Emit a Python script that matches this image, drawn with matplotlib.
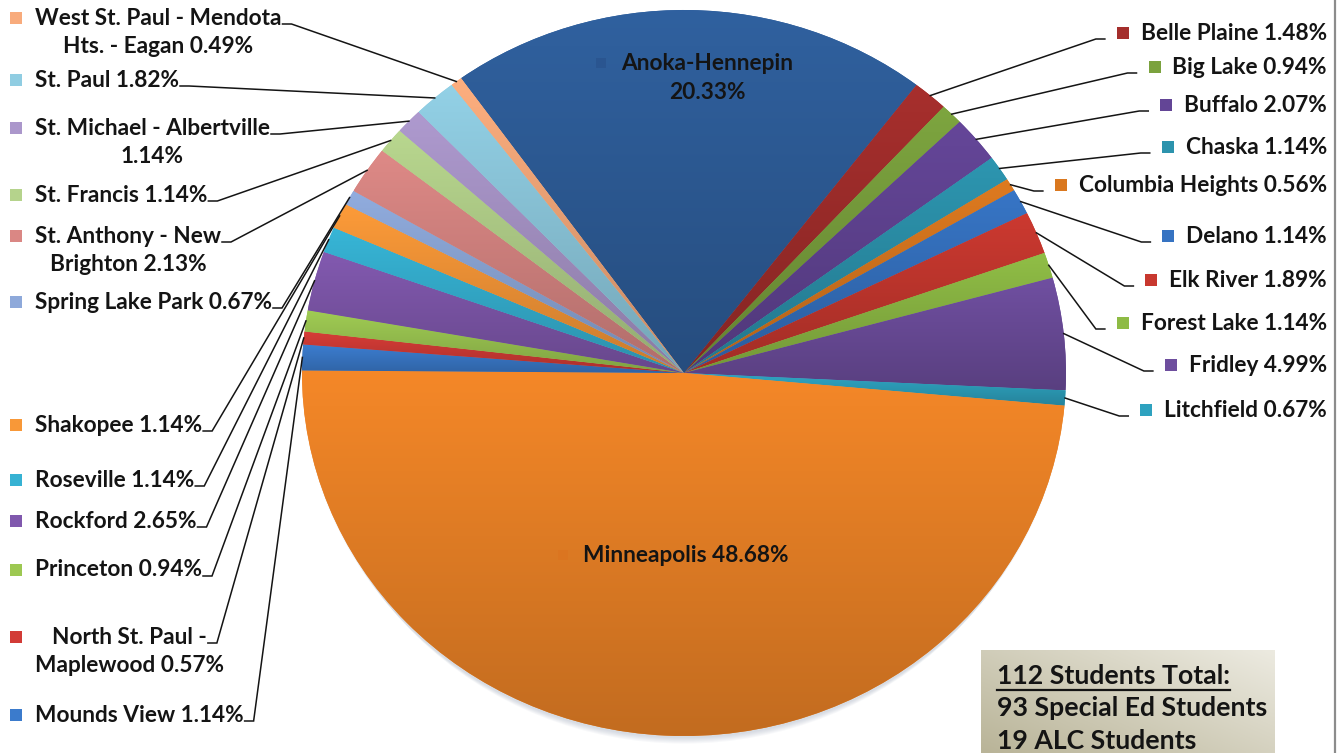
import numpy as np
import matplotlib
matplotlib.use("Agg")
import matplotlib.pyplot as plt
from matplotlib.colors import to_rgb
from matplotlib.patches import Rectangle, Ellipse

# Share of students by home district (percent), clockwise order
districts = [
    "Anoka-Hennepin", "Belle Plaine", "Big Lake", "Buffalo", "Chaska",
    "Columbia Heights", "Delano", "Elk River", "Forest Lake", "Fridley",
    "Litchfield", "Minneapolis", "Mounds View", "North St. Paul - Maplewood",
    "Princeton", "Rockford", "Roseville", "Shakopee", "Spring Lake Park",
    "St. Anthony - New Brighton", "St. Francis", "St. Michael - Albertville",
    "St. Paul", "West St. Paul - Mendota Hts. - Eagan",
]
shares = [20.33, 1.48, 0.94, 2.07, 1.14, 0.56, 1.14, 1.89, 1.14, 4.99, 0.67,
          48.68, 1.14, 0.57, 0.94, 2.65, 1.14, 1.14, 0.67, 2.13, 1.14, 1.14,
          1.82, 0.49]
colors = [
    "#2F5F9C", "#A42E2C", "#7BA23E", "#634596", "#2C93AD",
    "#DA781F", "#3673C2", "#C8382F", "#8EBB45", "#6E4E9E",
    "#2EA2BF", "#F08527", "#3B7BCC", "#D23B36", "#9DC852",
    "#8058AD", "#36B2D3", "#F89838", "#8EA9DA", "#DA8784",
    "#B5D38C", "#AB97CB", "#90CDE2", "#F8AB7C",
]
totals_title = "112 Students Total:"
totals_lines = ["93 Special Ed Students", "19 ALC Students"]

# Number of words on the first line of labels that wrap
first_line_words = {
    "Anoka-Hennepin": 1,
    "St. Michael - Albertville": 4,
    "St. Anthony - New Brighton": 4,
    "North St. Paul - Maplewood": 4,
    "West St. Paul - Mendota Hts. - Eagan": 5,
}

# Label placement (pixels): side and vertical centre of the first line
label_layout = {
    "West St. Paul - Mendota Hts. - Eagan": ("L", 18),
    "St. Paul": ("L", 80),
    "St. Michael - Albertville": ("L", 128),
    "St. Francis": ("L", 195),
    "St. Anthony - New Brighton": ("L", 236),
    "Spring Lake Park": ("L", 302),
    "Shakopee": ("L", 425),
    "Roseville": ("L", 480),
    "Rockford": ("L", 521),
    "Princeton": ("L", 570),
    "North St. Paul - Maplewood": ("L", 637),
    "Mounds View": ("L", 715),
    "Belle Plaine": ("R", 33),
    "Big Lake": ("R", 67),
    "Buffalo": ("R", 105),
    "Chaska": ("R", 147),
    "Columbia Heights": ("R", 185),
    "Delano": ("R", 236),
    "Elk River": ("R", 280),
    "Forest Lake": ("R", 323),
    "Fridley": ("R", 365),
    "Litchfield": ("R", 410),
    "Anoka-Hennepin": ("C", 63),
    "Minneapolis": ("I", 555),
}

W, H = 1344, 753
FONT = ["Lato", "DejaVu Sans"]
TXT = "#141414"
LINE_GAP = 28.5

fig = plt.figure(figsize=(W / 100, H / 100), dpi=100)
fig.patch.set_facecolor("white")

# Full-figure overlay in pixel coordinates for labels and leaders
ov = fig.add_axes([0, 0, 1, 1], zorder=3)
ov.set_xlim(0, W)
ov.set_ylim(H, 0)
ov.axis("off")
ov.patch.set_alpha(0)

# Pie axes (slightly wider than tall)
PL, PR, PT, PB = 302, 1066, 10, 736
axp = fig.add_axes([PL / W, 1 - PB / H, (PR - PL) / W, (PB - PT) / H], zorder=2)

# soft shadow below the pie
for k in range(6):
    axp.add_patch(Ellipse((0, -0.006 - 0.003 * k), 2 * (1 - 0.003 * k), 2,
                          facecolor="#7484A0", edgecolor="none", alpha=0.05,
                          clip_on=False, zorder=0))

wedges, _ = axp.pie(shares, colors=colors, startangle=125.7, counterclock=False,
                    radius=1, wedgeprops=dict(linewidth=0))
# vertical light-to-dark gradient in each slice
t = np.linspace(0, 1, 128)[:, None, None]
for w, c in zip(wedges, colors):
    w.set_zorder(1)
    ext = w.get_path().get_extents()
    base = np.array(to_rgb(c))
    top = np.clip(base * 1.02, 0, 1)
    bot = base * 0.81
    img = top * (1 - t) + bot * t
    img = np.repeat(img, 2, axis=1)
    im = axp.imshow(img, extent=[ext.x0, ext.x1, ext.y0, ext.y1], origin="upper",
                    aspect="auto", interpolation="bilinear", zorder=2)
    im.set_clip_path(w)
axp.set_aspect("auto")
axp.set_xlim(-1, 1)
axp.set_ylim(-1, 1)
axp.axis("off")

renderer = fig.canvas.get_renderer()


def text_width(s, size):
    tt = ov.text(0, 0, s, fontsize=size, fontweight="bold", family=FONT)
    wd = tt.get_window_extent(renderer).width
    tt.remove()
    return wd


FS = 14 * 250 / text_width("Columbia Heights 0.56%", 14)


def anchor(w):
    mid = np.deg2rad((w.theta1 + w.theta2) / 2)
    p = axp.transData.transform((np.cos(mid) * w.r, np.sin(mid) * w.r))
    return p[0], H - p[1]


def put(x, y, s, ha="left", size=None):
    ov.text(x, y, s, fontsize=size or FS, fontweight="bold", family=FONT,
            color=TXT, ha=ha, va="center")


def marker(cx, cy, c, size=12):
    ov.add_patch(Rectangle((cx - size / 2, cy - size / 2), size, size,
                           facecolor=c, edgecolor="none"))


for name, pct, c, w in zip(districts, shares, colors, wedges):
    words = name.split() + [f"{pct:.2f}%"]
    k = first_line_words.get(name, len(words))
    lines = [" ".join(words[:k])]
    if k < len(words):
        lines.append(" ".join(words[k:]))
    side, y1 = label_layout[name]
    widths = [text_width(s, FS) for s in lines]
    bw = max(widths)
    ax_, ay_ = anchor(w)
    if side == "L":
        left = 35
        for j, (s, wd) in enumerate(zip(lines, widths)):
            put(left + (bw - wd) / 2, y1 + j * LINE_GAP, s)
        marker(16, y1, c)
        r1 = left + (bw - widths[0]) / 2 + widths[0]
        ys = y1 + 6
        ov.plot([r1 + 1, r1 + 10, ax_], [ys, ys, ay_], color=TXT, lw=1.1,
                solid_joinstyle="miter")
    elif side == "R":
        right = 1327
        put(right, y1, lines[0], ha="right")
        mleft = right - widths[0] - 24
        marker(mleft + 6, y1, c)
        ys = y1 + 6
        ov.plot([mleft - 12, mleft - 21, ax_], [ys, ys, ay_], color=TXT, lw=1.1,
                solid_joinstyle="miter")
    elif side == "C":
        cx = 707
        for j, s in enumerate(lines):
            put(cx, y1 + j * 29, s, ha="center")
        marker(cx - widths[0] / 2 - 20, y1, "#2A5590", size=10)
    else:
        left = 583
        put(left, y1, lines[0])
        marker(left - 20, y1, "#DB7520", size=10)

# Totals box with beige gradient
BX0, BX1, BY0, BY1 = 981, 1275, 650, 753
gx = np.linspace(0, 1, 64)[None, :, None]
gy = np.linspace(0, 1, 32)[:, None, None]
dark = 0.55 * (1 - gx) + 0.45 * gy
light_c = np.array(to_rgb("#ECEAE0"))
dark_c = np.array(to_rgb("#B9B498"))
box_img = light_c * (1 - dark) + dark_c * dark
ov.imshow(box_img, extent=[BX0, BX1, BY1, BY0], origin="upper", aspect="auto",
          interpolation="bilinear", zorder=1)
BFS = FS * 269 / text_width(totals_lines[0], FS)
bx = 997
put(bx, 676, totals_title, size=BFS)
tw = text_width(totals_title, BFS)
ov.plot([bx, bx + tw], [690, 690], color=TXT, lw=1.6)
put(bx, 708, totals_lines[0], size=BFS)
put(bx, 741, totals_lines[1], size=BFS)

# right frame edge
ov.plot([1334.5, 1334.5], [0, H], color="#8C8C8C", lw=1.6)

ov.set_xlim(0, W)
ov.set_ylim(H, 0)

fig.savefig("out.png", dpi=100, facecolor="white")
